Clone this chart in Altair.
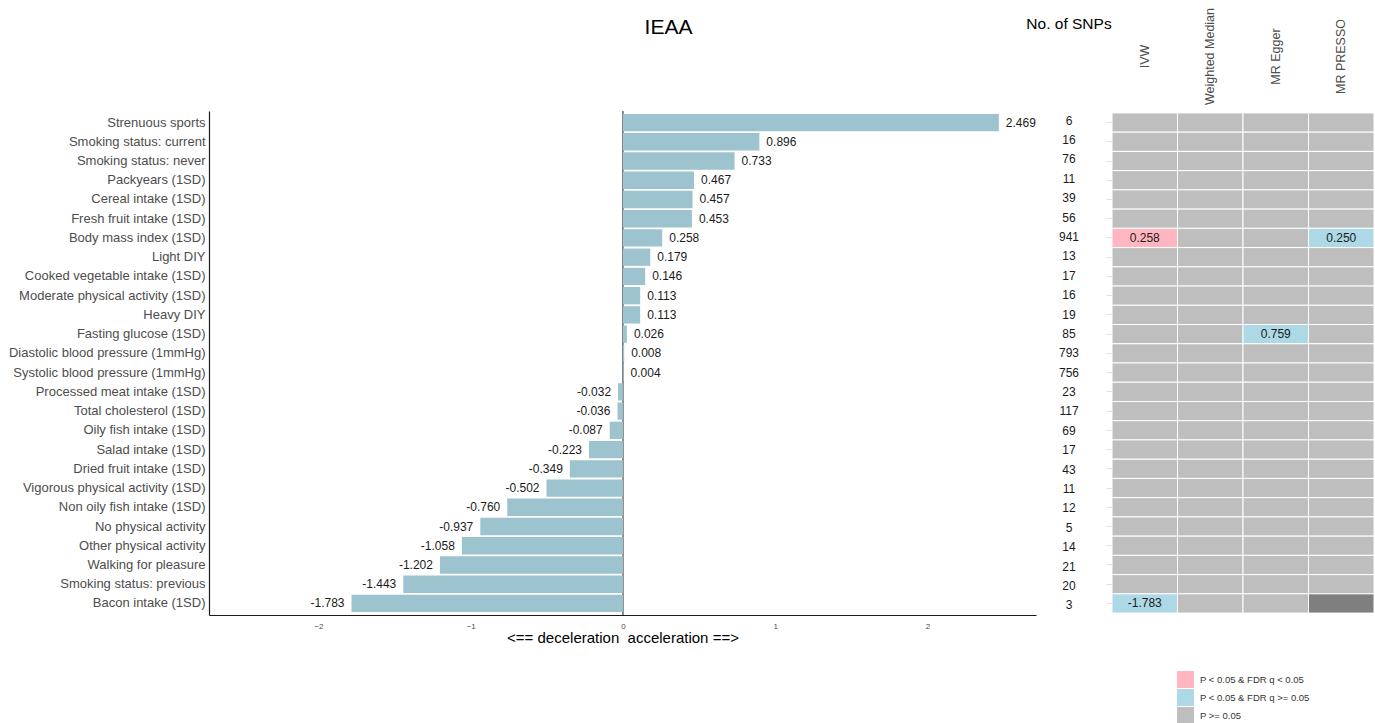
import altair as alt
import pandas as pd

FONT = "Liberation Sans"

# Exposures, top to bottom
traits = [
    "Strenuous sports",
    "Smoking status: current",
    "Smoking status: never",
    "Packyears (1SD)",
    "Cereal intake (1SD)",
    "Fresh fruit intake (1SD)",
    "Body mass index (1SD)",
    "Light DIY",
    "Cooked vegetable intake (1SD)",
    "Moderate physical activity (1SD)",
    "Heavy DIY",
    "Fasting glucose (1SD)",
    "Diastolic blood pressure (1mmHg)",
    "Systolic blood pressure (1mmHg)",
    "Processed meat intake (1SD)",
    "Total cholesterol (1SD)",
    "Oily fish intake (1SD)",
    "Salad intake (1SD)",
    "Dried fruit intake (1SD)",
    "Vigorous physical activity (1SD)",
    "Non oily fish intake (1SD)",
    "No physical activity",
    "Other physical activity",
    "Walking for pleasure",
    "Smoking status: previous",
    "Bacon intake (1SD)",
]

# IVW effect on IEAA
effects = [
    2.469, 0.896, 0.733, 0.467, 0.457, 0.453, 0.258, 0.179, 0.146, 0.113,
    0.113, 0.026, 0.008, 0.004, -0.032, -0.036, -0.087, -0.223, -0.349,
    -0.502, -0.760, -0.937, -1.058, -1.202, -1.443, -1.783,
]

# Number of instruments per exposure
n_snps = [6, 16, 76, 11, 39, 56, 941, 13, 17, 16, 19, 85, 793, 756, 23,
          117, 69, 17, 43, 11, 12, 5, 14, 21, 20, 3]

methods = ["IVW", "Weighted Median", "MR Egger", "MR PRESSO"]

status_levels = [
    "P < 0.05 & FDR q < 0.05",
    "P < 0.05 & FDR q >= 0.05",
    "P >= 0.05",
    "NA",
]
status_colors = ["#FFB6C1", "#ADD8E6", "#BEBEBE", "#7F7F7F"]

# Cells that differ from "P >= 0.05"
cell_traits = ["Body mass index (1SD)", "Body mass index (1SD)",
               "Fasting glucose (1SD)", "Bacon intake (1SD)",
               "Bacon intake (1SD)"]
cell_methods = ["IVW", "MR PRESSO", "MR Egger", "IVW", "MR PRESSO"]
cell_status = ["P < 0.05 & FDR q < 0.05", "P < 0.05 & FDR q >= 0.05",
               "P < 0.05 & FDR q >= 0.05", "P < 0.05 & FDR q >= 0.05", "NA"]
cell_labels = ["0.258", "0.250", "0.759", "-1.783", ""]

H = 504

bars_df = pd.DataFrame({"trait": traits, "effect": effects, "snps": n_snps})
bars_df["label"] = [f"{v:.3f}" for v in effects]
bars_df["snp_label"] = [str(n) for n in n_snps]

rows = []
for t in traits:
    for m in methods:
        rows.append({"trait": t, "method": m, "status": "P >= 0.05", "label": ""})
heat_df = pd.DataFrame(rows)
for t, m, s, lab in zip(cell_traits, cell_methods, cell_status, cell_labels):
    mask = (heat_df["trait"] == t) & (heat_df["method"] == m)
    heat_df.loc[mask, "status"] = s
    heat_df.loc[mask, "label"] = lab

# ---- forest-style bar panel ----
y_bar = alt.Y(
    "trait:N", sort=traits,
    scale=alt.Scale(paddingInner=0.1, paddingOuter=0.15),
    axis=alt.Axis(title=None, labelFontSize=13, labelColor="#4d4d4d",
                  tickSize=0, labelPadding=4, labelLimit=0,
                  domainColor="#1a1a1a", domainWidth=1.2, grid=False),
)
x_bar = alt.X(
    "effect:Q",
    scale=alt.Scale(domain=[-2.719, 2.713], nice=False, zero=False),
    axis=alt.Axis(values=[-2, -1, 0, 1, 2], format="d",
                  title="<== deceleration\u00a0 acceleration ==>",
                  titleFontSize=15, titleFontWeight="normal", titleColor="black",
                  titlePadding=0, labelFontSize=8, labelColor="#4d4d4d",
                  tickSize=0, labelPadding=7, grid=False,
                  domainColor="#1a1a1a", domainWidth=1.2),
)

bars = alt.Chart(bars_df).mark_bar(color="#9DC3CF").encode(x=x_bar, y=y_bar)
zero = alt.Chart(pd.DataFrame({"effect": [0.0]})).mark_rule(
    color="#666666", strokeWidth=1.5).encode(x="effect:Q")
pos_text = alt.Chart(bars_df).transform_filter("datum.effect >= 0").mark_text(
    align="left", dx=7, fontSize=12, font=FONT, color="#1a1a1a"
).encode(x="effect:Q", y=alt.Y("trait:N", sort=traits), text="label:N")
neg_text = alt.Chart(bars_df).transform_filter("datum.effect < 0").mark_text(
    align="right", dx=-7, fontSize=12, font=FONT, color="#1a1a1a"
).encode(x="effect:Q", y=alt.Y("trait:N", sort=traits), text="label:N")

bar_panel = alt.layer(zero, bars, pos_text, neg_text).properties(
    width=827, height=H,
    title=alt.TitleParams("IEAA", fontSize=21, font=FONT, fontWeight="normal",
                          color="black", anchor="middle", dx=46,
                          baseline="alphabetic", offset=55),
)

# ---- number of SNPs column ----
snp_panel = alt.Chart(bars_df).mark_text(
    fontSize=12, font=FONT, color="#1a1a1a", dx=-5
).encode(
    y=alt.Y("trait:N", sort=traits,
            scale=alt.Scale(paddingInner=0, paddingOuter=0.1), axis=None),
    text="snp_label:N",
).properties(
    width=76, height=H,
    title=alt.TitleParams("No. of SNPs", fontSize=15.5, font=FONT,
                          fontWeight="normal", color="black", anchor="middle",
                          dx=-5, baseline="alphabetic", offset=67),
)

# ---- method significance grid ----
heat_base = alt.Chart(heat_df).encode(
    x=alt.X("method:N", sort=methods,
            scale=alt.Scale(paddingInner=0, paddingOuter=0),
            axis=alt.Axis(orient="top", title=None, labelAngle=270,
                          labelAlign="center", labelBaseline="middle",
                          tickSize=0, labelPadding=55, labelFontSize=12.5,
                          labelColor="#4d4d4d", domain=False, grid=False)),
    y=alt.Y("trait:N", sort=traits,
            scale=alt.Scale(paddingInner=0, paddingOuter=0.1),
            axis=alt.Axis(title=None, labels=False, domain=False, tickSize=6,
                          tickColor="#e0e0e0", grid=False)),
)
rects = heat_base.mark_rect(stroke="white", strokeWidth=1).encode(
    color=alt.Color(
        "status:N",
        scale=alt.Scale(domain=status_levels, range=status_colors),
        legend=alt.Legend(title=None, values=status_levels[:3], orient="none",
                          legendX=968, legendY=560, symbolType="square",
                          symbolSize=289, symbolStrokeWidth=0,
                          labelFontSize=9.5, labelColor="#333333",
                          rowPadding=1, labelOffset=6, padding=0),
    )
)
cell_text = heat_base.mark_text(fontSize=12, font=FONT, color="#1a1a1a").encode(
    text="label:N")
heat_panel = alt.layer(rects, cell_text).properties(width=262, height=H)

chart = alt.hconcat(
    bar_panel, snp_panel, heat_panel, spacing=0, bounds="flush"
).properties(
    padding={"left": 8, "top": 7, "right": 0, "bottom": 0},
).configure_view(stroke=None).configure_axis(
    labelFont=FONT, titleFont=FONT
).configure_legend(labelFont=FONT).configure_title(font=FONT)

chart.save("out.html", embed_options={"renderer": "svg", "actions": False})
